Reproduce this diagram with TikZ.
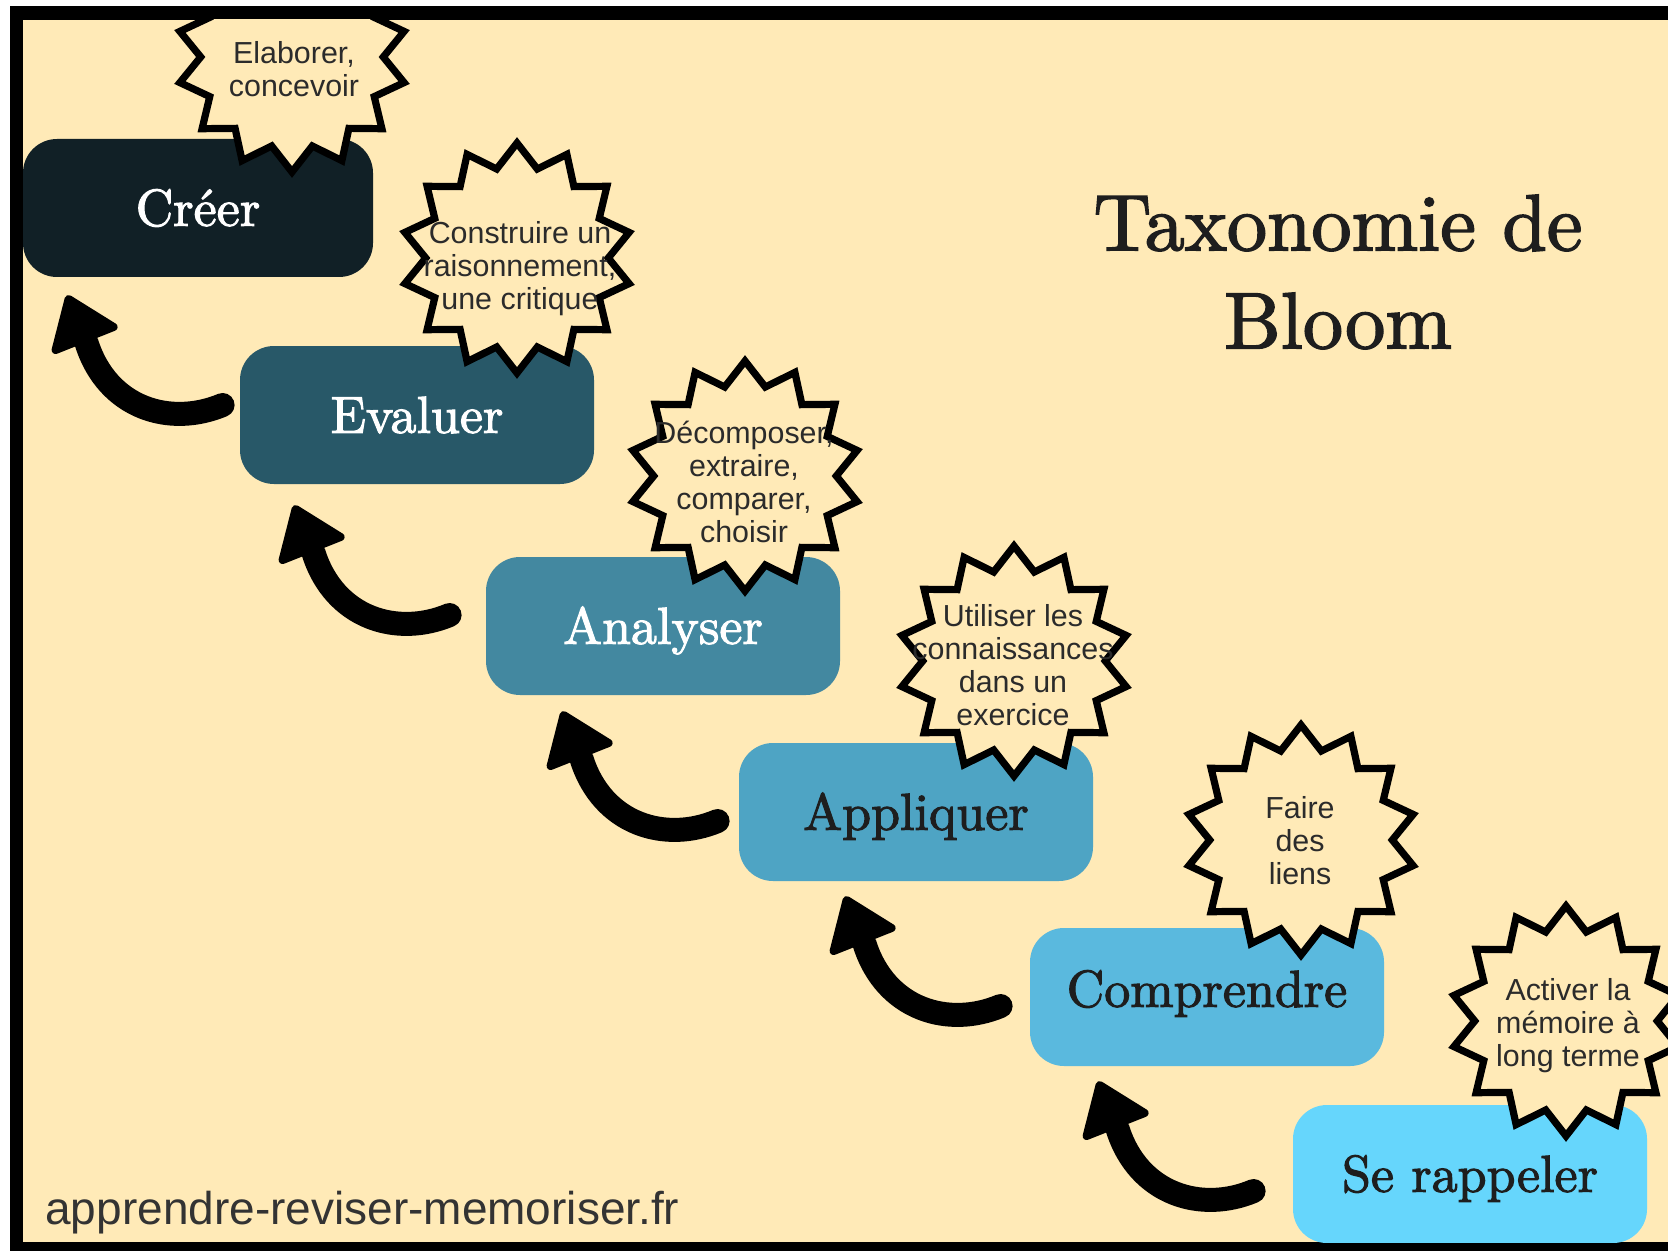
\documentclass[tikz,border=0pt]{standalone}
\usepackage{fontspec}
\newfontfamily\boxfont[FakeBold=2]{lmroman10-regular.otf}
\newfontfamily\sansf{Liberation Sans}
\usetikzlibrary{shapes.geometric,calc}
\definecolor{bg}{HTML}{FFEAB7}
\definecolor{cA}{HTML}{112026}
\definecolor{cB}{HTML}{285868}
\definecolor{cC}{HTML}{4388A0}
\definecolor{cD}{HTML}{4EA4C4}
\definecolor{cE}{HTML}{5AB9DE}
\definecolor{cF}{HTML}{66D6FC}
\definecolor{startext}{HTML}{2B2B2B}
\definecolor{darktext}{HTML}{1E1E1E}
\definecolor{footc}{HTML}{333333}
\tikzset{
  lvl/.style={rectangle, rounded corners=17pt, minimum width=177pt, minimum height=69pt,
    inner sep=0pt, text height=17.8pt, text depth=0pt,
    font=\boxfont\fontsize{26}{30}\selectfont},
  burst/.style={star, star points=14, star point ratio=1.26, minimum size=115pt,
    inner sep=0pt, fill=bg, draw=black, line width=3.6pt, shape border rotate=0},
  bursttext/.style={font=\sansf\fontsize{15.2}{16.5}\selectfont, text=startext,
    align=center, inner sep=0pt},
  bigarrow/.pic={
    \draw[line width=12pt, line cap=round] (-10,0) .. controls (-62,22) and (-125,4) .. (-146,-62);
    \filldraw[line width=4pt, line join=round] (-164,-106) -- (-119,-78) -- (-177,-55) -- cycle;
  }
}
\begin{document}
\begin{tikzpicture}[x=0.5pt,y=-0.5pt]
\useasboundingbox (0,0) rectangle (1668,1251);
\fill[white] (0,0) rectangle (1668,1251);
\fill[black] (10,6) rectangle (1668,1251);
\fill[bg] (23,20) rectangle (1668,1242);
\begin{scope}
\clip (23,20) rectangle (1668,1242);
% level boxes
\node[lvl, fill=cA, minimum width=175pt, text=white] (creer) at (198,208) {Créer};
\node[lvl, fill=cB, text=white] (evaluer) at (417,415) {Evaluer};
\node[lvl, fill=cC, text=white] (analyser) at (663,626) {Analyser};
\node[lvl, fill=cD, text=darktext] (appliquer) at (916,812) {Appliquer};
\node[lvl, fill=cE, text=darktext] (comprendre) at (1207,997) {\raisebox{4pt}{Comprendre}};
\node[lvl, fill=cF, text=darktext] (rappeler) at (1470,1174) {Se rappeler};
% arrows
\pic at ($(evaluer.west)+(-7,-10)$) {bigarrow};
\pic at ($(analyser.west)+(-26,-11)$) {bigarrow};
\pic at ($(appliquer.west)+(-11,9)$) {bigarrow};
\pic at ($(comprendre.west)+(-19,9)$) {bigarrow};
\pic at ($(rappeler.west)+(-29,17)$) {bigarrow};
% bursts
\node[burst] (s1) at (292,57) {};
\node[burst] (s2) at (517,258) {};
\node[burst] (s3) at (745,476) {};
\node[burst] (s4) at (1014,661) {};
\node[burst] (s5) at (1301,840) {};
\node[burst] (s6) at (1566,1021) {};
\node[bursttext] (t1) at (294,69) {Elaborer,\\concevoir};
\node[bursttext] (t2) at (520,269) {Construire un\\raisonnement,\\une critique};
\node[bursttext] (t3) at (744,482) {Décomposer,\\extraire,\\comparer,\\choisir};
\node[bursttext] (t4) at (1013,665) {Utiliser les\\connaissances\\dans un\\exercice};
\node[bursttext] (t5) at (1300,841) {Faire\\des\\liens};
\node[bursttext] (t6) at (1568,1026) {Activer la\\mémoire à\\long terme};
\end{scope}
\node[font=\boxfont\fontsize{40}{49}\selectfont, text=darktext, align=center, inner sep=0pt] (title) at (1338,272) {Taxonomie de\\Bloom};
\node[anchor=base west, font=\sansf\fontsize{23}{27}\selectfont, text=footc, inner sep=0pt] (footer) at (45,1224) {apprendre-reviser-memoriser.fr};
\end{tikzpicture}
\end{document}
